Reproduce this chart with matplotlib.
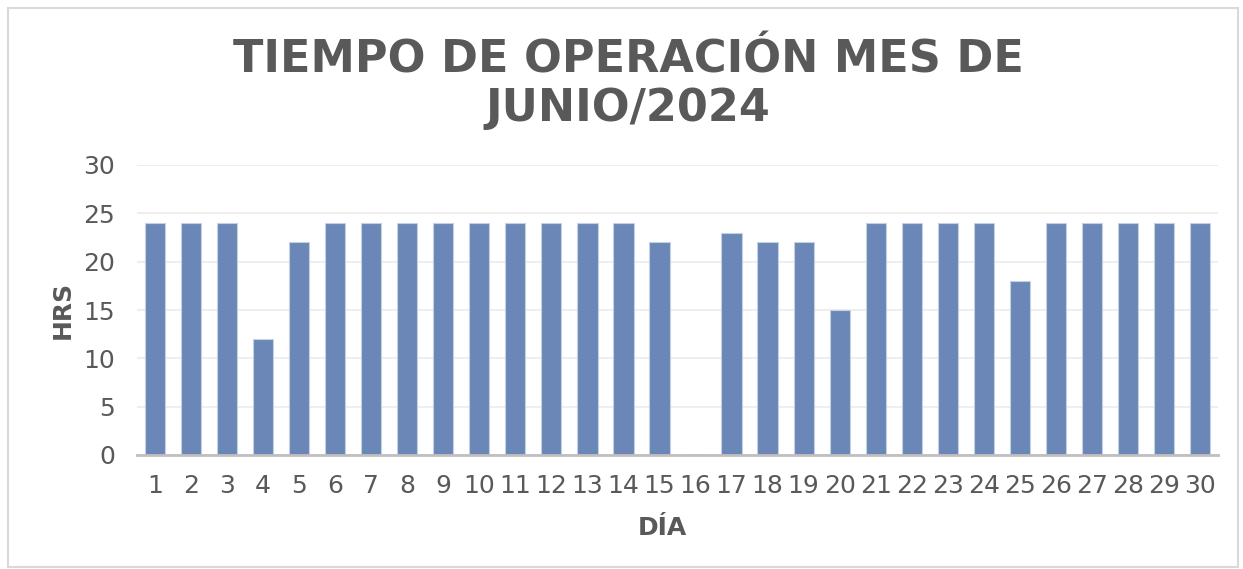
import matplotlib
matplotlib.use("Agg")
import matplotlib.pyplot as plt
from matplotlib.patches import Rectangle

dias = [str(d) for d in range(1, 31)]
horas = [24, 24, 24, 12, 22, 24, 24, 24, 24, 24, 24, 24, 24, 24, 22,
         0, 23, 22, 22, 15, 24, 24, 24, 24, 18, 24, 24, 24, 24, 24]
yticks = [0, 5, 10, 15, 20, 25, 30]
titulo = "TIEMPO DE OPERACIÓN MES DE\nJUNIO/2024"

fig = plt.figure(figsize=(12.43, 5.69), dpi=100)
fig.patches.append(Rectangle((8/1243, 1-567/569), 1230/1243, 559/569, transform=fig.transFigure,
                             fill=False, edgecolor="#d9d9d9", linewidth=1.5))
ax = fig.add_axes([137/1243, 1-455/569, 1081/1243, 290/569])

ax.bar(range(len(dias)), horas, width=0.56, color="#6a87b8", edgecolor="#c5d0e3", linewidth=0.8, zorder=3)
ax.set_xlim(-0.5, len(dias) - 0.5)
ax.set_ylim(0, 30)
ax.set_yticks(yticks)
ax.set_xticks(range(len(dias)))
ax.set_xticklabels(dias)
ax.grid(axis="y", color="#ebebeb", linewidth=1.2, zorder=0)
for s in ["top", "right", "left"]:
    ax.spines[s].set_visible(False)
ax.spines["bottom"].set_color("#bfbfbf")
ax.spines["bottom"].set_linewidth(2)
ax.spines["bottom"].set_zorder(4)
ax.tick_params(axis="both", length=0, labelsize=18, labelcolor="#595959")
ax.tick_params(axis="x", pad=14)
ax.tick_params(axis="y", pad=16)
ax.set_ylabel("HRS", fontsize=18, fontweight="bold", color="#595959")
ax.set_xlabel("DÍA", fontsize=18, fontweight="bold", color="#595959")
ax.xaxis.set_label_coords(0.486, -0.21)
ax.yaxis.set_label_coords(-0.058, 0.5)

fig.text(628/1243, 1-84/569, titulo, ha="center", va="center", fontsize=32,
         fontweight="bold", color="#595959", linespacing=1.15)

fig.savefig("out.png", dpi=100, facecolor="white")
